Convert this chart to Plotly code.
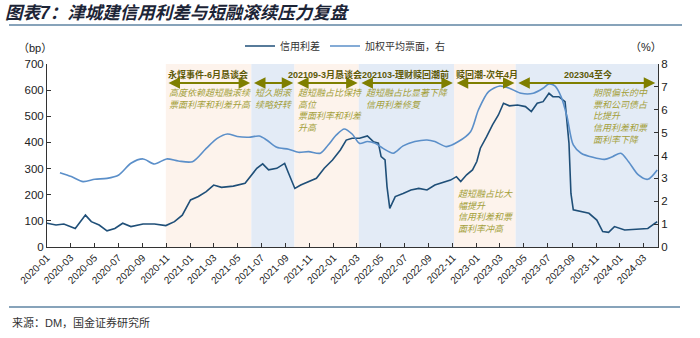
import plotly.graph_objects as go
import datetime as _dt

# ---------------- data ----------------
spread_dates = ["2020-01-01","2020-01-24","2020-02-13","2020-03-13","2020-04-08","2020-04-23","2020-05-13","2020-06-02","2020-06-22","2020-07-12",
                "2020-08-02","2020-09-02","2020-10-01","2020-10-30","2020-11-21","2020-12-11","2021-01-01","2021-01-21","2021-02-10","2021-03-01",
                "2021-03-21","2021-04-20","2021-05-20","2021-05-30","2021-06-19","2021-07-04","2021-07-19","2021-08-09","2021-08-29","2021-09-08",
                "2021-09-24","2021-10-09","2021-10-29","2021-11-18","2021-12-08","2021-12-29","2022-01-18","2022-02-02","2022-02-17","2022-03-08",
                "2022-03-28","2022-04-12","2022-04-25","2022-05-02","2022-05-12","2022-05-17","2022-05-24","2022-06-07","2022-06-27","2022-07-17",
                "2022-08-06","2022-08-27","2022-09-16","2022-10-06","2022-10-26","2022-11-10","2022-11-21","2022-12-06","2022-12-21","2023-01-01",
                "2023-01-10","2023-01-26","2023-02-10","2023-02-25","2023-03-10","2023-03-25","2023-04-15","2023-05-05","2023-05-20","2023-06-04",
                "2023-06-19","2023-07-04","2023-07-14","2023-07-29","2023-08-14","2023-08-24","2023-08-29","2023-09-04","2023-09-24","2023-10-14",
                "2023-11-03","2023-11-18","2023-12-03","2023-12-18","2024-01-13","2024-02-12","2024-03-12","2024-04-05"]
spread_bp = [91,84,88,71,122,97,84,62,71,91,
             78,88,88,82,97,122,180,193,212,237,
             228,233,244,263,301,318,295,301,320,282,
             224,237,250,263,301,333,371,409,416,416,
             425,403,397,346,333,231,148,193,205,218,
             224,218,237,246,256,269,250,276,295,327,
             378,422,467,505,550,540,543,537,518,550,
             556,588,575,575,556,397,205,142,135,129,
             103,59,56,78,65,68,71,97]

coupon_dates = ["2020-02-03","2020-03-03","2020-04-02","2020-05-02","2020-06-02","2020-07-02","2020-08-02","2020-09-02","2020-10-01","2020-11-01",
                "2020-12-01","2021-01-06","2021-02-10","2021-03-10","2021-04-05","2021-04-30","2021-05-30","2021-06-25","2021-07-14","2021-08-09",
                "2021-09-08","2021-10-03","2021-10-29","2021-11-28","2021-12-18","2022-01-08","2022-01-28","2022-02-17","2022-03-08","2022-03-28",
                "2022-04-17","2022-05-07","2022-06-02","2022-06-27","2022-07-27","2022-08-27","2022-09-16","2022-10-16","2022-11-15","2022-12-16",
                "2023-01-05","2023-01-31","2023-03-01","2023-03-25","2023-04-24","2023-05-25","2023-06-19","2023-07-04","2023-07-19","2023-08-04",
                "2023-08-19","2023-09-04","2023-09-24","2023-10-24","2023-11-23","2023-12-13","2024-01-03","2024-01-23","2024-02-17","2024-03-12",
                "2024-04-05"]
coupon_pct = [3.25,3.08,2.86,2.96,3.0,3.15,3.66,3.85,3.63,3.85,
              3.76,3.73,4.31,4.75,4.94,4.83,4.80,4.85,4.68,4.36,
              4.27,4.14,4.17,4.10,4.46,4.90,5.16,4.94,4.53,4.61,
              4.53,4.31,4.10,4.42,4.61,4.68,4.61,4.39,4.61,5.04,
              5.99,6.79,7.04,6.94,6.72,6.72,6.94,7.13,7.04,6.57,
              5.70,4.46,4.10,3.92,3.83,3.95,4.10,3.73,3.15,2.96,
              3.37]

# shaded periods
period_starts = ["2020-10-30","2021-06-05","2021-09-23","2022-03-06","2022-11-04","2023-04-10"]
period_ends   = ["2021-06-05","2021-09-23","2022-03-06","2022-11-04","2023-04-10","2024-04-07"]
period_kinds  = ["pink","blue","pink","blue","pink","blue"]
period_labels = ["永煤事件-6月恳谈会", "", "202109-3月恳谈会", "202103-理财赎回潮前", "赎回潮-次年4月", "202304至今"]
label_dates   = ["2021-02-15", None, "2021-12-09", "2022-07-03", "2023-01-26", "2023-10-12"]

notes = ["高度依赖超短融滚续<br>票面利率和利差升高",
         "短久期滚<br>续略好转",
         "超短融占比保持<br>高位<br>票面利率和利差<br>升高",
         "超短融占比显著下降<br>信用利差修复",
         "超短融占比大<br>幅提升<br>信用利差和票<br>面利率冲高",
         "期限偏长的中<br>票和公司债占<br>比提升<br>信用利差和票<br>面利率下降"]
note_dates = ["2020-11-03", "2021-06-10", "2021-09-28", "2022-03-20", "2022-11-08", "2023-10-20"]
note_tops = [0.878, 0.878, 0.878, 0.878, 0.330, 0.878]

tick_vals = ["%d-%02d-01" % (y, m) for y in range(2020, 2025) for m in range(1, 13, 2) if (y, m) <= (2024, 3)]

# ---------------- figure ----------------
W, H = 700, 338
L, R, T, B = 47, 42, 64, 91
pw, ph = W - L - R, H - T - B

def px(xp):
    return (xp - L) / pw

def py(yp):
    return (H - B - yp) / ph

def shift(d, days):
    return (_dt.date.fromisoformat(d) + _dt.timedelta(days=days)).isoformat()

DARK = "#1F4F78"
LIGHT = "#5B8FC9"
OLIVE = "#7F7F00"
LABEL = "#5E5A08"
NOTE = "#A39F3A"
COLORS = {"pink": "#FDF3EC", "blue": "#E3EBF6"}

fig = go.Figure()
fig.add_trace(go.Scatter(x=spread_dates, y=spread_bp, name="信用利差", mode="lines",
                         line=dict(color=DARK, width=1.6)))
fig.add_trace(go.Scatter(x=coupon_dates, y=coupon_pct, name="加权平均票面，右", mode="lines",
                         line=dict(color=LIGHT, width=1.6, shape="spline", smoothing=0.8), yaxis="y2"))

shapes = []
for s, e, k in zip(period_starts, period_ends, period_kinds):
    shapes.append(dict(type="rect", xref="x", yref="paper", x0=s, x1=e, y0=0, y1=1,
                       fillcolor=COLORS[k], line=dict(width=0), layer="below"))
shapes.append(dict(type="line", xref="paper", yref="paper", x0=px(9), x1=px(682), y0=py(25), y1=py(25),
                   line=dict(color="#87A3BA", width=2)))
shapes.append(dict(type="line", xref="paper", yref="paper", x0=px(9), x1=px(680), y0=py(307), y1=py(307),
                   line=dict(color="#87A3BA", width=2)))

ann = []
arrow_y = 627
for s, e in zip(period_starts, period_ends):
    e2 = e if e != period_ends[-1] else "2024-04-03"
    ann.append(dict(xref="x", yref="y", axref="x", ayref="y", x=shift(e2, -3), y=arrow_y,
                    ax=shift(s, 3), ay=arrow_y, text="", showarrow=True, arrowside="end+start",
                    arrowhead=2, arrowsize=1.15, arrowwidth=2, arrowcolor=OLIVE, standoff=0, startstandoff=0))
for lab, d in zip(period_labels, label_dates):
    if lab:
        ann.append(dict(xref="x", yref="paper", x=d, y=py(75), text="<b>" + lab + "</b>", showarrow=False,
                        xanchor="center", yanchor="middle", font=dict(size=9, color=LABEL)))
for t, d, yt in zip(notes, note_dates, note_tops):
    ann.append(dict(xref="x", yref="paper", x=d, y=yt, text="<i>" + t + "</i>", showarrow=False,
                    xanchor="left", yanchor="top", align="left", font=dict(size=9, color=NOTE, style="italic")))

ann.append(dict(xref="paper", yref="paper", x=px(3), y=py(13), text="<b><i>图表7：津城建信用利差与短融滚续压力复盘</i></b>",
                showarrow=False, xanchor="left", yanchor="middle", font=dict(size=17.5, color="#1C2436")))
ann.append(dict(xref="paper", yref="paper", x=px(10), y=py(322), text="来源：DM，国金证券研究所",
                showarrow=False, xanchor="left", yanchor="middle", font=dict(size=11, color="#333333")))
ann.append(dict(xref="paper", yref="paper", x=px(16), y=py(48), text="（bp）",
                showarrow=False, xanchor="left", yanchor="middle", font=dict(size=11, color="#222222")))
ann.append(dict(xref="paper", yref="paper", x=px(664), y=py(47), text="（%）",
                showarrow=False, xanchor="right", yanchor="middle", font=dict(size=11, color="#222222")))

fig.update_layout(
    width=W, height=H,
    margin=dict(l=L, r=R, t=T, b=B, autoexpand=False),
    paper_bgcolor="white", plot_bgcolor="white",
    font=dict(family="Liberation Sans, Arial, Noto Sans CJK SC", color="#222222"),
    shapes=shapes, annotations=ann,
    showlegend=True,
    legend=dict(orientation="h", x=px(240), y=py(46), xanchor="left", yanchor="middle",
                bgcolor="rgba(0,0,0,0)", font=dict(size=10, color="#333333"), itemwidth=30,
                tracegroupgap=0),
    xaxis=dict(type="date", range=["2020-01-01", "2024-04-07"], tickvals=tick_vals, tickformat="%Y-%m",
               tickangle=-45, ticks="inside", ticklen=4, tickcolor="#333333", showline=True,
               linecolor="#333333", linewidth=1, showgrid=False, zeroline=False,
               tickfont=dict(size=10, color="#222222")),
    yaxis=dict(range=[0, 700], dtick=100, ticks="inside", ticklen=4, tickcolor="#333333",
               showline=True, linecolor="#333333", linewidth=1, showgrid=False, zeroline=False,
               tickfont=dict(size=11.5, color="#222222")),
    yaxis2=dict(range=[0, 8], dtick=1, overlaying="y", side="right", ticks="inside", ticklen=4,
                tickcolor="#333333", showline=True, linecolor="#333333", linewidth=1,
                showgrid=False, zeroline=False, tickfont=dict(size=11.5, color="#222222")),
)

fig.write_html("out.html")
